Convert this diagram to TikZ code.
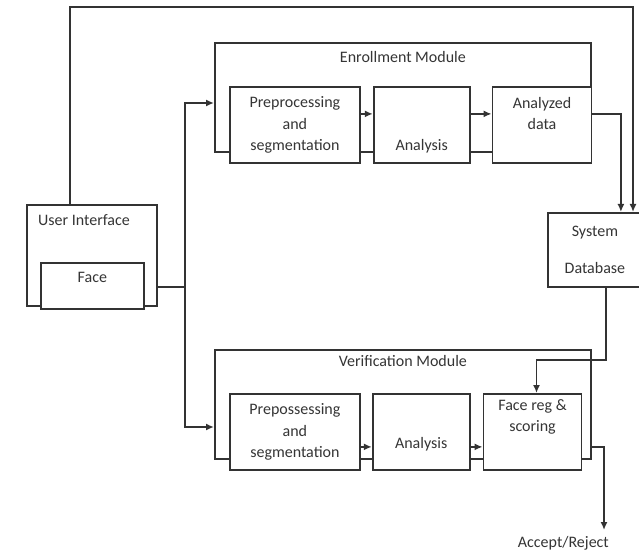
\documentclass[tikz,border=0pt]{standalone}
\usepackage{fontspec}
\setmainfont{Carlito}
\usetikzlibrary{
  arrows.meta,
  positioning,
  calc
}
\definecolor{linecol}{HTML}{333333}
\definecolor{textcol}{HTML}{353535}
\tikzset{
  boxtext/.style={
    font=\fontsize{16}{21.5}\selectfont,
    text=textcol,
    align=center,
    inner sep=0pt,
  },
  modbox/.style={
    boxtext,
    draw=linecol,
    line width=1.8pt,
    anchor=north west,
  },
  blk/.style={
    modbox,
    fill=white,
    minimum height=76pt,
  },
  wire/.style={
    draw=linecol,
    line width=1.8pt,
  },
  flow/.style={
    wire,
    -{Latex[length=8pt, width=7pt]},
  },
}

\begin{document}
\begin{tikzpicture}[x=1pt, y=-1pt]

\clip (0,0) rectangle (639,553);
\fill[white] (0,0) rectangle (639,553);

% === User interface ===

\node[modbox, minimum width=130pt, minimum height=101pt,
  label={[boxtext, anchor=west, xshift=12pt, yshift=-16pt]north west:User Interface}]
  (ui) at (26,204) {};

\node[blk, minimum width=103pt, minimum height=46pt,
  label={[boxtext, yshift=8pt]center:Face}]
  (face) at (40,262) {};

% === Enrollment module ===

\node[modbox, minimum width=376pt, minimum height=109pt,
  label={[boxtext, anchor=north, yshift=-9pt]north:Enrollment Module}]
  (enroll) at (214,42) {};

\node[blk, minimum width=130pt]
  (epre) at (229,86) {Preprocessing\\and\\segmentation};

\node[blk, minimum width=96pt, right=12pt of epre,
  label={[boxtext, yshift=-21pt]center:Analysis}]
  (eana) {};

\node[blk, minimum width=99pt, right=21pt of eana,
  label={[boxtext, yshift=11.5pt]center:Analyzed\\data}]
  (edat) {};

% === Verification module ===

\node[modbox, minimum width=376pt, minimum height=109pt,
  label={[boxtext, anchor=north, yshift=-6pt]north:Verification Module}]
  (verif) at (214,349) {};

\node[blk, minimum width=130pt]
  (vpre) at (229,393) {Prepossessing\\and\\segmentation};

\node[blk, minimum width=97pt, right=11pt of vpre,
  label={[boxtext, yshift=-12.5pt]center:Analysis}]
  (vana) {};

\node[blk, minimum width=98pt, right=12pt of vana,
  label={[boxtext, yshift=15pt]center:Face reg \&\\scoring}]
  (vfac) {};

% === Database and result ===

\node[modbox, minimum width=94pt, minimum height=74pt]
  (db) at (547,212) {System\\[15.5pt]Database};

\node[boxtext, anchor=north east]
  (result) at (609,536) {Accept/Reject};

% UI feedback over the top to the database
\coordinate (topright) at (633,7);
\draw[flow] ([xshift=-22pt]ui.north) |- (topright) -- (topright |- db.north);

% UI fan-out to both modules
\coordinate (split) at (185,287);
\draw[wire] (ui.east |- split) -- (split);
\draw[flow] (split) |- ($(enroll.north west)+(0,61)$);
\draw[flow] (split) |- ($(verif.north west)+(0,78)$);

% enrollment chain
\draw[flow] ([yshift=11pt]epre.east) -- ([yshift=11pt]eana.west);
\draw[flow] ([yshift=11pt]eana.east) -- ([yshift=11pt]edat.west);
\coordinate (eout) at ([yshift=11pt]edat.east);
\draw[flow] (eout -| enroll.east) -| ([xshift=26pt]db.north);

% database to scoring
\draw[flow] ([xshift=11pt]db.south) -- ++(0,72) -| ([xshift=4pt]vfac.north);

% verification chain
\draw[flow] ([yshift=-15pt]vpre.east) -- ([yshift=-15pt]vana.west);
\draw[flow] ([yshift=-15pt]vana.east) -- ([yshift=-15pt]vfac.west);
\coordinate (vout) at ([yshift=-15pt]vfac.east);
\draw[flow] (vout -| verif.east) -| ([xshift=-5pt, yshift=6pt]result.north east);

\end{tikzpicture}
\end{document}
